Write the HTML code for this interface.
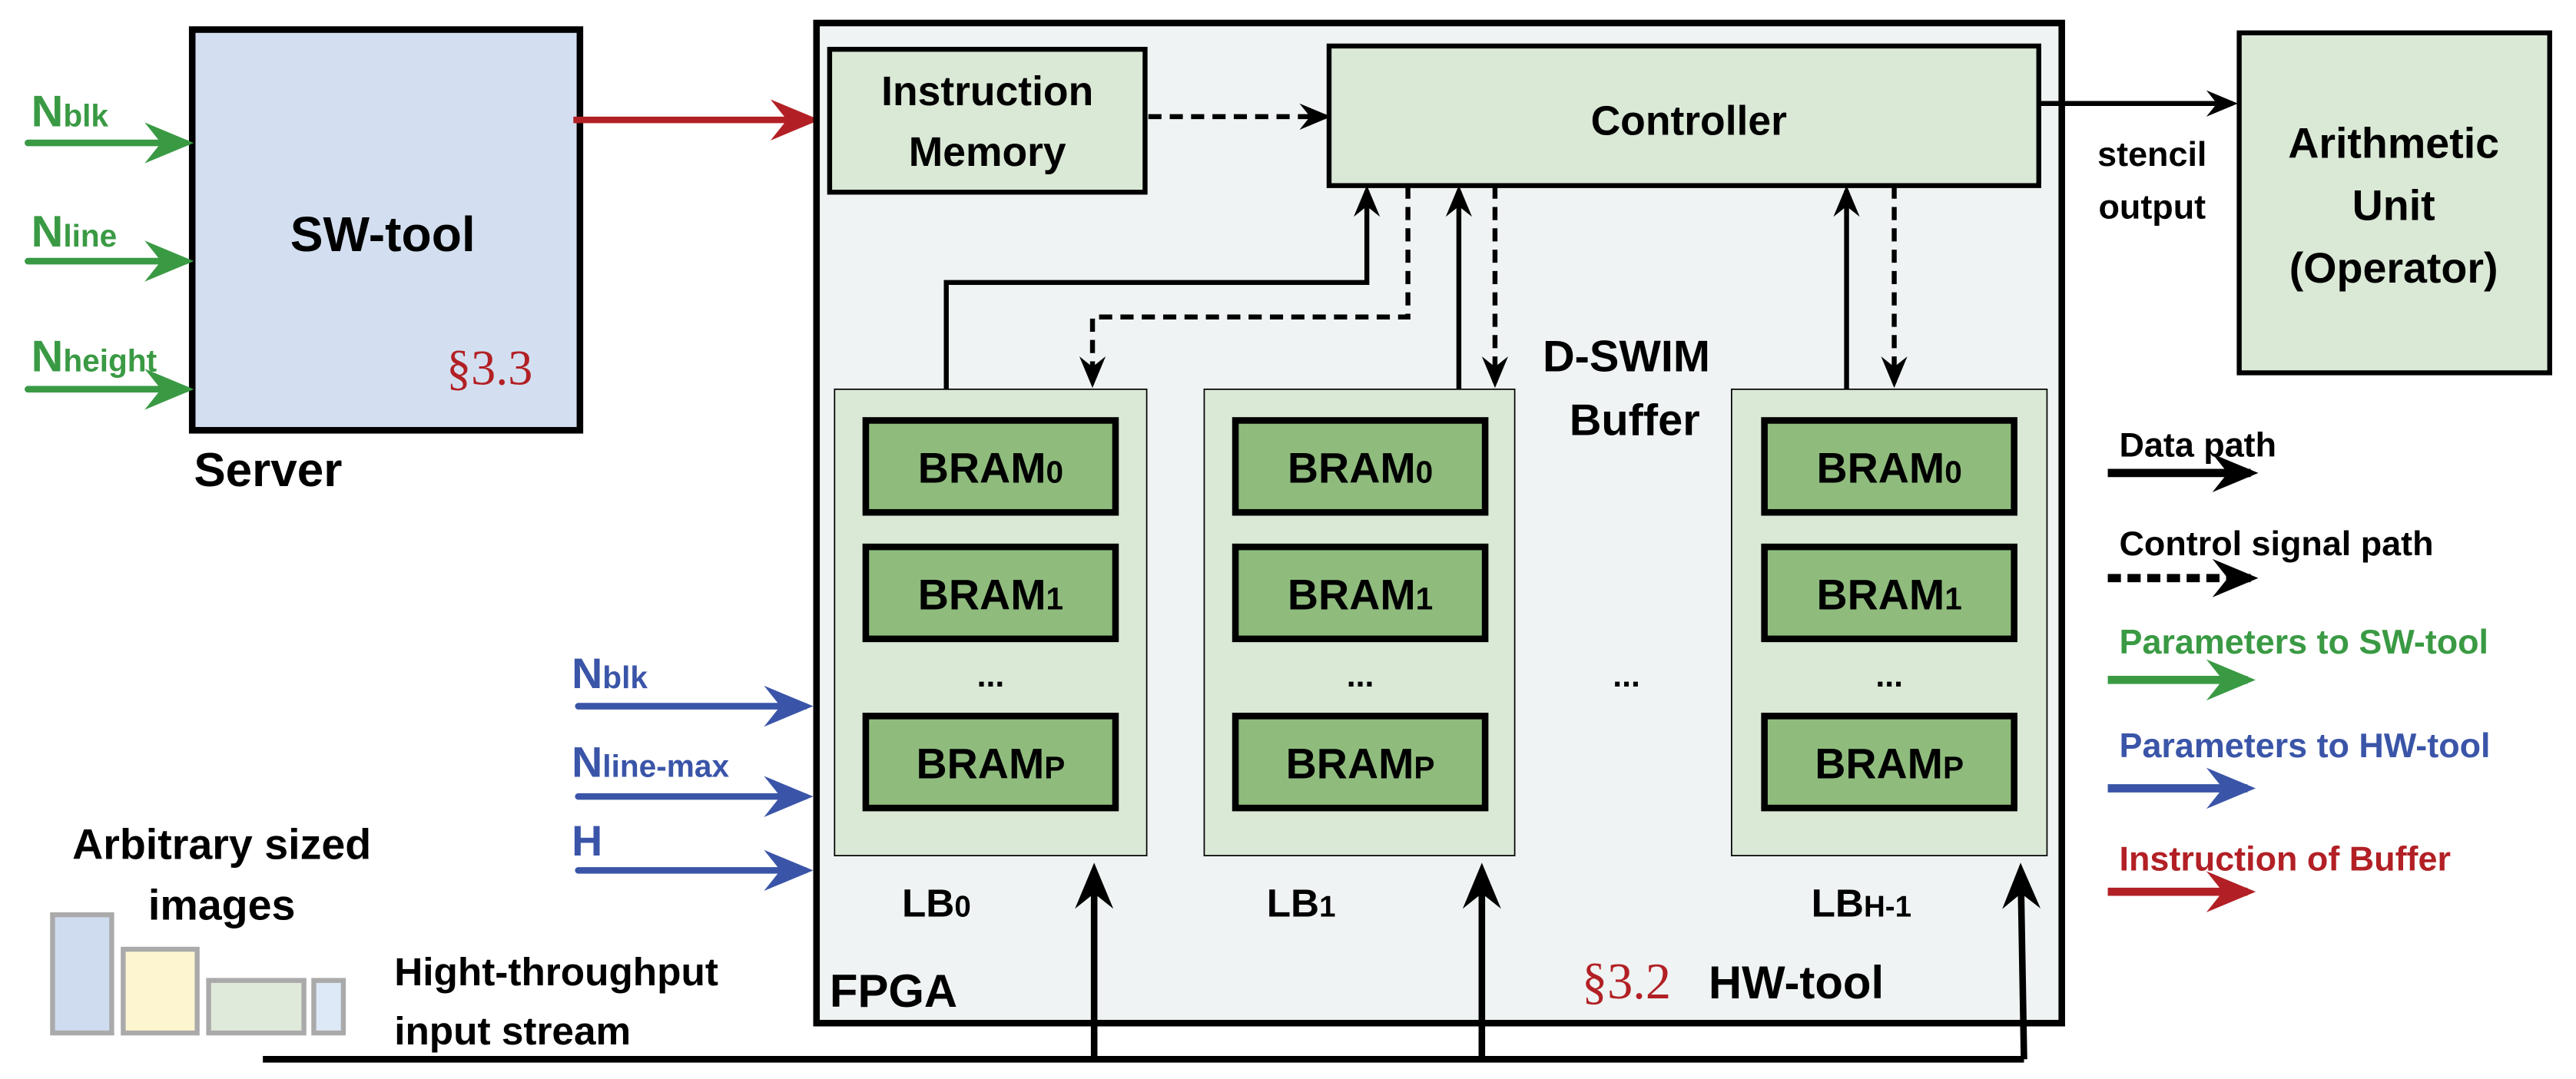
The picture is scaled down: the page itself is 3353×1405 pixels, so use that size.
<!DOCTYPE html>
<html><head><meta charset="utf-8"><style>html,body{margin:0;padding:0;background:#fff}svg{display:block}</style></head>
<body>
<svg width="3353" height="1405" viewBox="0 0 1568 657" xmlns="http://www.w3.org/2000/svg" font-family="Liberation Sans, sans-serif" font-weight="bold">
<defs>
<marker id="ak" viewBox="0 0 12 10" refX="10" refY="5" markerWidth="20" markerHeight="16" orient="auto" markerUnits="userSpaceOnUse">
<path d="M0,0 L12,5 L0,10 L4,5 z" fill="#000"/></marker>
<marker id="akl" viewBox="0 0 12 10" refX="10" refY="5" markerWidth="28" markerHeight="24" orient="auto" markerUnits="userSpaceOnUse">
<path d="M0,0 L12,5 L0,10 L4,5 z" fill="#000"/></marker>
<marker id="ag" viewBox="0 0 12 10" refX="10" refY="5" markerWidth="30" markerHeight="26" orient="auto" markerUnits="userSpaceOnUse">
<path d="M0,0 L12,5 L0,10 L4,5 z" fill="#3a9a44"/></marker>
<marker id="ab" viewBox="0 0 12 10" refX="10" refY="5" markerWidth="30" markerHeight="26" orient="auto" markerUnits="userSpaceOnUse">
<path d="M0,0 L12,5 L0,10 L4,5 z" fill="#3a55a8"/></marker>
<marker id="ar" viewBox="0 0 12 10" refX="10" refY="5" markerWidth="30" markerHeight="26" orient="auto" markerUnits="userSpaceOnUse">
<path d="M0,0 L12,5 L0,10 L4,5 z" fill="#b22025"/></marker>
</defs>

<!-- Server -->
<rect x="117" y="18" width="236" height="244" fill="#d3dff0" stroke="#000" stroke-width="4"/>
<text x="233" y="153" font-size="30" text-anchor="middle">SW-tool</text>
<text x="298" y="234" font-size="30" fill="#b22025" font-weight="normal" font-family="Liberation Serif, serif" text-anchor="middle">§3.3</text>
<text x="118" y="296" font-size="29">Server</text>

<g stroke="#3a9a44" stroke-width="4" stroke-linecap="round">
<line x1="17" y1="87" x2="113" y2="87" marker-end="url(#ag)"/>
<line x1="17" y1="159" x2="113" y2="159" marker-end="url(#ag)"/>
<line x1="17" y1="237" x2="113" y2="237" marker-end="url(#ag)"/>
</g>
<g fill="#3a9a44" font-size="27">
<text x="19" y="77">N<tspan font-size="19">blk</tspan></text>
<text x="19" y="150">N<tspan font-size="19">line</tspan></text>
<text x="19" y="226">N<tspan font-size="19">height</tspan></text>
</g>

<line x1="349" y1="73" x2="494" y2="73" stroke="#b22025" stroke-width="4" marker-end="url(#ar)"/>

<!-- FPGA -->
<rect x="497" y="14" width="758" height="609" fill="#eff3f3" stroke="#000" stroke-width="4"/>
<rect x="505" y="30" width="192" height="87" fill="#dae8d6" stroke="#000" stroke-width="3"/>
<text x="601" y="64" font-size="25" text-anchor="middle">Instruction</text>
<text x="601" y="101" font-size="25" text-anchor="middle">Memory</text>
<rect x="809" y="28" width="432" height="85" fill="#dae8d6" stroke="#000" stroke-width="3"/>
<text x="1028" y="82" font-size="25" text-anchor="middle">Controller</text>
<line x1="699" y1="71" x2="807" y2="71" stroke="#000" stroke-width="3" stroke-dasharray="8,5" marker-end="url(#ak)"/>

<line x1="1241" y1="63" x2="1359" y2="63" stroke="#000" stroke-width="3" marker-end="url(#ak)"/>
<text x="1310" y="101" font-size="21" text-anchor="middle">stencil</text>
<text x="1310" y="133" font-size="21" text-anchor="middle">output</text>
<rect x="1363" y="20" width="189" height="207" fill="#dae8d6" stroke="#000" stroke-width="3"/>
<text x="1457" y="96" font-size="26" text-anchor="middle">Arithmetic</text>
<text x="1457" y="134" font-size="26" text-anchor="middle">Unit</text>
<text x="1457" y="172" font-size="26" text-anchor="middle">(Operator)</text>

<!-- LBs -->
<g fill="#dae8d6" stroke="#000" stroke-width="0.8">
<rect x="508" y="237" width="190" height="284"/>
<rect x="733" y="237" width="189" height="284"/>
<rect x="1054" y="237" width="192" height="284"/>
</g>
<g fill="#8fbc7d" stroke="#000" stroke-width="4">
<rect x="527" y="256" width="152" height="56"/><rect x="527" y="333" width="152" height="56"/><rect x="527" y="436" width="152" height="56"/>
<rect x="752" y="256" width="152" height="56"/><rect x="752" y="333" width="152" height="56"/><rect x="752" y="436" width="152" height="56"/>
<rect x="1074" y="256" width="152" height="56"/><rect x="1074" y="333" width="152" height="56"/><rect x="1074" y="436" width="152" height="56"/>
</g>
<g font-size="26" text-anchor="middle">
<text x="603" y="294">BRAM<tspan font-size="19">0</tspan></text>
<text x="603" y="371">BRAM<tspan font-size="19">1</tspan></text>
<text x="603" y="474">BRAM<tspan font-size="19">P</tspan></text>
<text x="828" y="294">BRAM<tspan font-size="19">0</tspan></text>
<text x="828" y="371">BRAM<tspan font-size="19">1</tspan></text>
<text x="828" y="474">BRAM<tspan font-size="19">P</tspan></text>
<text x="1150" y="294">BRAM<tspan font-size="19">0</tspan></text>
<text x="1150" y="371">BRAM<tspan font-size="19">1</tspan></text>
<text x="1150" y="474">BRAM<tspan font-size="19">P</tspan></text>
<text x="603" y="418" font-size="20">...</text>
<text x="828" y="418" font-size="20">...</text>
<text x="990" y="418" font-size="20">...</text>
<text x="1150" y="418" font-size="20">...</text>
<text x="570" y="558" font-size="24">LB<tspan font-size="18">0</tspan></text>
<text x="792" y="558" font-size="24">LB<tspan font-size="18">1</tspan></text>
<text x="1133" y="558" font-size="24">LB<tspan font-size="18">H-1</tspan></text>
</g>
<text x="990" y="226" font-size="27" text-anchor="middle">D-SWIM</text>
<text x="995" y="265" font-size="27" text-anchor="middle">Buffer</text>

<!-- controller links -->
<g stroke="#000" stroke-width="3" fill="none">
<polyline points="576,237 576,172 832,172 832,116" marker-end="url(#ak)"/>
<line x1="888" y1="237" x2="888" y2="116" marker-end="url(#ak)"/>
<line x1="1124" y1="237" x2="1124" y2="116" marker-end="url(#ak)"/>
</g>
<g stroke="#000" stroke-width="3" fill="none" stroke-dasharray="8,5">
<polyline points="857,113 857,193 665,193 665,233" marker-end="url(#ak)"/>
<line x1="910" y1="113" x2="910" y2="233" marker-end="url(#ak)"/>
<line x1="1153" y1="113" x2="1153" y2="233" marker-end="url(#ak)"/>
</g>

<!-- input stream -->
<g stroke="#000" stroke-width="4" fill="none">
<polyline points="160,645 1232,645"/>
<line x1="666" y1="645" x2="666" y2="530" marker-end="url(#akl)"/>
<line x1="902" y1="645" x2="902" y2="530" marker-end="url(#akl)"/>
<line x1="1232" y1="645" x2="1230" y2="530" marker-end="url(#akl)"/>
</g>

<!-- blue params -->
<g stroke="#3a55a8" stroke-width="4" stroke-linecap="round">
<line x1="352" y1="430" x2="490" y2="430" marker-end="url(#ab)"/>
<line x1="352" y1="485" x2="490" y2="485" marker-end="url(#ab)"/>
<line x1="352" y1="530" x2="490" y2="530" marker-end="url(#ab)"/>
</g>
<g fill="#3a55a8" font-size="26">
<text x="348" y="419">N<tspan font-size="19">blk</tspan></text>
<text x="348" y="473">N<tspan font-size="19">line-max</tspan></text>
<text x="348" y="521">H</text>
</g>

<!-- images -->
<text x="135" y="523" font-size="26" text-anchor="middle">Arbitrary sized</text>
<text x="135" y="560" font-size="26" text-anchor="middle">images</text>
<g stroke="#aaa" stroke-width="3">
<rect x="32" y="557" width="36" height="72" fill="#cfdcf0"/>
<rect x="75" y="578" width="45" height="51" fill="#fdf5cf"/>
<rect x="127" y="597" width="58" height="32" fill="#dfeadb"/>
<rect x="191" y="597" width="18" height="32" fill="#dde9f6"/>
</g>
<text x="240" y="600" font-size="24">Hight-throughput</text>
<text x="240" y="636" font-size="24">input stream</text>

<text x="505" y="613" font-size="28">FPGA</text>
<text x="990" y="608" font-size="31" fill="#b22025" font-weight="normal" font-family="Liberation Serif, serif" text-anchor="middle">§3.2</text>
<text x="1040" y="608" font-size="28">HW-tool</text>

<!-- legend -->
<text x="1290" y="278" font-size="21">Data path</text>
<line x1="1283" y1="288" x2="1370" y2="288" stroke="#000" stroke-width="5" marker-end="url(#akl)"/>
<text x="1290" y="338" font-size="21">Control signal path</text>
<line x1="1283" y1="352" x2="1370" y2="352" stroke="#000" stroke-width="5" stroke-dasharray="8,4" marker-end="url(#akl)"/>
<text x="1290" y="398" font-size="21" fill="#3a9a44">Parameters to SW-tool</text>
<line x1="1283" y1="414" x2="1368" y2="414" stroke="#3a9a44" stroke-width="5" marker-end="url(#ag)"/>
<text x="1290" y="461" font-size="21" fill="#3a55a8">Parameters to HW-tool</text>
<line x1="1283" y1="480" x2="1368" y2="480" stroke="#3a55a8" stroke-width="5" marker-end="url(#ab)"/>
<text x="1290" y="530" font-size="21" fill="#b22025">Instruction of Buffer</text>
<line x1="1283" y1="543" x2="1368" y2="543" stroke="#b22025" stroke-width="5" marker-end="url(#ar)"/>
</svg>
</body></html>
